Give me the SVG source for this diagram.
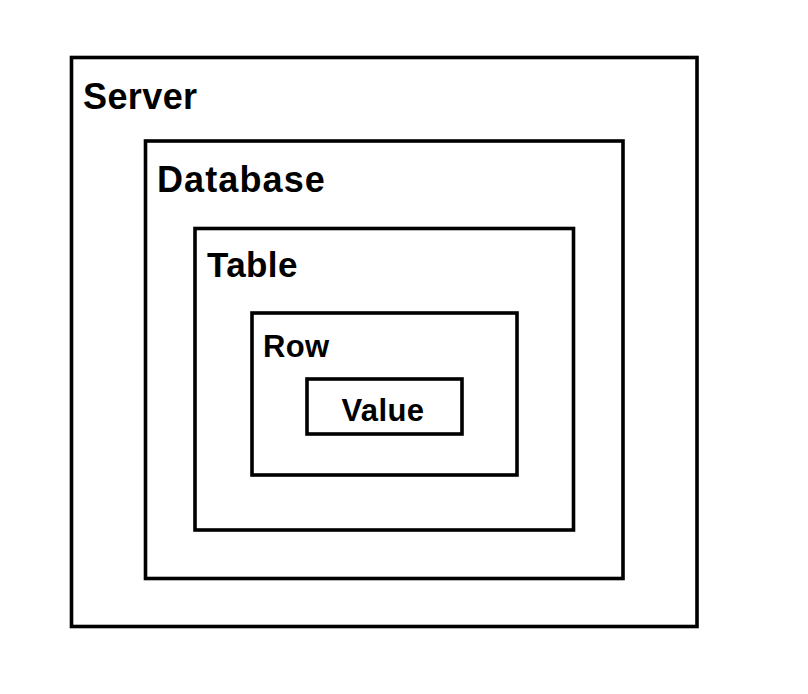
<svg xmlns="http://www.w3.org/2000/svg" width="808" height="694" viewBox="0 0 808 694">
<style>
.box{fill:none;stroke:#000;stroke-width:3.6}
.lbl{font-family:"Liberation Sans",Arial,sans-serif;font-weight:bold;fill:#000;letter-spacing:0.4px}
.big{font-size:36px}
.mid{font-size:35px}
.sm{font-size:31px}
</style>
<rect x="0" y="0" width="808" height="694" fill="#fff"/>
<g id="server">
<rect class="box" x="71.5" y="57.5" width="625.5" height="569"/>
<text class="lbl big" x="83" y="108.5">Server</text>
</g>
<g id="database">
<rect class="box" x="145.5" y="141" width="477.5" height="437.5"/>
<text class="lbl big" x="157" y="191.7" style="letter-spacing:1.1px">Database</text>
</g>
<g id="table">
<rect class="box" x="195" y="228.5" width="378.5" height="301.5"/>
<text class="lbl mid" x="207" y="277.3">Table</text>
</g>
<g id="row">
<rect class="box" x="252" y="313" width="265" height="162"/>
<text class="lbl sm" x="263" y="356.7">Row</text>
</g>
<g id="value">
<rect class="box" x="307" y="379" width="155" height="55"/>
<text class="lbl sm" x="383" y="420.7" text-anchor="middle">Value</text>
</g>
<g id="connectors"></g>
</svg>
